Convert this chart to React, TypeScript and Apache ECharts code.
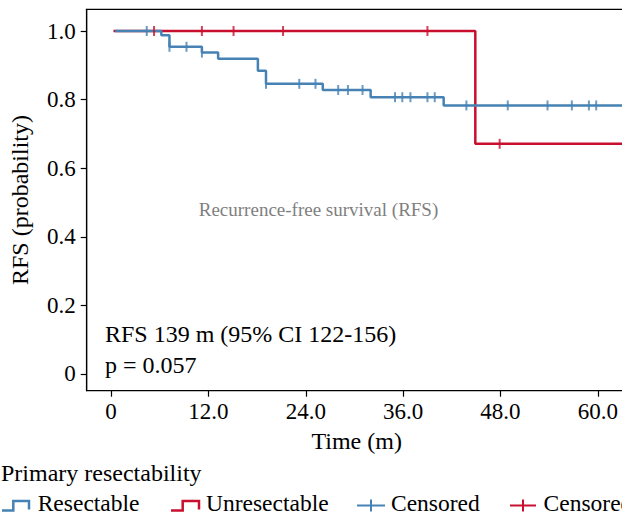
import React, { useEffect, useRef } from "react";
import * as echarts from "echarts";

// Resectable (blue) step curve: times where the survival changes and the new value
const resectTimes = [0.5, 6.2, 7.2, 11.2, 13.2, 18.1, 19.1, 26.1, 32.0, 41.0, 64];
const resectSurv = [1.0, 0.988, 0.954, 0.937, 0.919, 0.884, 0.846, 0.828, 0.807, 0.783, 0.783];
// Unresectable (red) step curve
const unresTimes = [0.3, 44.9, 64];
const unresSurv = [1.0, 0.671, 0.671];
// Censor marks
const resectCensorTimes = [4.4, 7.2, 9.3, 11.2, 19.1, 23.2, 25.2, 28.0, 29.2, 31.0, 35.0, 35.9, 36.9, 39.0, 39.9, 43.8, 48.9, 53.8, 56.8, 58.9, 59.8];
const resectCensorSurv = [1.0, 0.954, 0.954, 0.937, 0.846, 0.846, 0.846, 0.828, 0.828, 0.828, 0.807, 0.807, 0.807, 0.807, 0.807, 0.783, 0.783, 0.783, 0.783, 0.783, 0.783];
const unresCensorTimes = [5.3, 11.2, 15.1, 21.2, 39.0, 47.9];
const unresCensorSurv = [1.0, 1.0, 1.0, 1.0, 1.0, 0.671];
// Axis ticks
const xTicks = [0, 12, 24, 36, 48, 60];
const yTicks = [0, 0.2, 0.4, 0.6, 0.8, 1.0];

const BLUE = "#4682B4";
const RED = "#C8102E";
const FONT = "'Liberation Serif', 'Times New Roman', serif";

const zip = (a: number[], b: number[]) => a.map((t, i) => [t, b[i]]);

const legendText = (text: string, x: number) => ({
  type: "text",
  x,
  y: 503,
  style: { text, fontSize: 23.5, fill: "#000", fontFamily: FONT, align: "left", verticalAlign: "middle" },
});

export default function App() {
  const ref = useRef<HTMLDivElement>(null);
  useEffect(() => {
    if (!ref.current) return;
    const chart = echarts.init(ref.current, null, { renderer: "svg" });
    const fmt = (v: number) => (v === 0 ? "0" : v.toFixed(1));
    chart.setOption({
      animation: false,
      backgroundColor: "#fff",
      textStyle: { fontFamily: FONT },
      grid: {
        left: 86.7,
        top: 9.3,
        width: 540,
        height: 381.4,
        show: true,
        borderColor: "#000",
        borderWidth: 1.2,
        containLabel: false,
        outerBoundsMode: "none",
      },
      xAxis: {
        type: "value",
        min: -3,
        max: 63.56,
        name: "Time (m)",
        nameLocation: "middle",
        nameGap: 38,
        nameTextStyle: { fontSize: 24, color: "#000", fontFamily: FONT },
        axisLine: { show: true, onZero: false, lineStyle: { color: "#000", width: 1.2 } },
        axisTick: { show: true, length: 6, customValues: xTicks, lineStyle: { color: "#000", width: 1.2 } },
        axisLabel: { customValues: xTicks, formatter: fmt, fontSize: 23, color: "#000", margin: 9, fontFamily: FONT },
        splitLine: { show: false },
      },
      yAxis: {
        type: "value",
        min: -0.0487,
        max: 1.0633,
        name: "RFS (probability)",
        nameLocation: "middle",
        nameGap: 55,
        nameRotate: 90,
        nameTextStyle: { fontSize: 24, color: "#000", fontFamily: FONT },
        axisLine: { show: true, onZero: false, lineStyle: { color: "#000", width: 1.2 } },
        axisTick: { show: true, length: 6, customValues: yTicks, lineStyle: { color: "#000", width: 1.2 } },
        axisLabel: { customValues: yTicks, formatter: fmt, fontSize: 23, color: "#000", margin: 11, fontFamily: FONT },
        splitLine: { show: false },
      },
      series: [
        {
          name: "Unresectable",
          type: "line",
          step: "end",
          data: zip(unresTimes, unresSurv),
          showSymbol: false,
          lineStyle: { color: RED, width: 2.5 },
          z: 2,
        },
        {
          name: "Resectable",
          type: "line",
          step: "end",
          data: zip(resectTimes, resectSurv),
          showSymbol: false,
          lineStyle: { color: BLUE, width: 2.5 },
          z: 3,
        },
        {
          name: "Censored",
          type: "scatter",
          data: zip(unresCensorTimes, unresCensorSurv),
          symbol: "rect",
          symbolSize: [2, 10],
          itemStyle: { color: RED },
          z: 4,
        },
        {
          name: "Censored ",
          type: "scatter",
          data: zip(resectCensorTimes, resectCensorSurv),
          symbol: "rect",
          symbolSize: [2, 10],
          itemStyle: { color: BLUE },
          z: 5,
        },
      ],
      graphic: [
        {
          type: "text",
          x: 318.5,
          y: 209,
          style: { text: "Recurrence-free survival (RFS)", fontSize: 19, fill: "#7f7f7f", fontFamily: FONT, align: "center", verticalAlign: "middle" },
        },
        {
          type: "text",
          x: 105,
          y: 334,
          style: { text: "RFS 139 m (95% CI 122-156)", fontSize: 24, fill: "#000", fontFamily: FONT, align: "left", verticalAlign: "middle" },
        },
        {
          type: "text",
          x: 105,
          y: 365,
          style: { text: "p = 0.057", fontSize: 24, fill: "#000", fontFamily: FONT, align: "left", verticalAlign: "middle" },
        },
        {
          type: "text",
          x: 1,
          y: 473,
          style: { text: "Primary resectability", fontSize: 24, fill: "#000", fontFamily: FONT, align: "left", verticalAlign: "middle" },
        },
        {
          type: "polyline",
          shape: { points: [[2, 510.5], [13.3, 510.5], [13.3, 501], [29, 501], [29, 509.5]] },
          style: { stroke: BLUE, lineWidth: 2.5, fill: "none" },
        },
        legendText("Resectable", 37.7),
        {
          type: "polyline",
          shape: { points: [[171, 510.5], [182.7, 510.5], [182.7, 501], [199, 501], [199, 509.5]] },
          style: { stroke: RED, lineWidth: 2.5, fill: "none" },
        },
        legendText("Unresectable", 206),
        {
          type: "line",
          shape: { x1: 357, y1: 505.5, x2: 385, y2: 505.5 },
          style: { stroke: BLUE, lineWidth: 2 },
        },
        {
          type: "line",
          shape: { x1: 371, y1: 499.5, x2: 371, y2: 511.5 },
          style: { stroke: BLUE, lineWidth: 2 },
        },
        legendText("Censored", 391),
        {
          type: "line",
          shape: { x1: 510, y1: 505.5, x2: 536, y2: 505.5 },
          style: { stroke: RED, lineWidth: 2 },
        },
        {
          type: "line",
          shape: { x1: 523, y1: 499.5, x2: 523, y2: 511.5 },
          style: { stroke: RED, lineWidth: 2 },
        },
        legendText("Censored", 543.6),
      ],
    });
    return () => chart.dispose();
  }, []);
  return (
    <div
      ref={ref}
      style={{ position: "fixed", left: 0, top: 0, width: 622, height: 516 }}
    />
  );
}
